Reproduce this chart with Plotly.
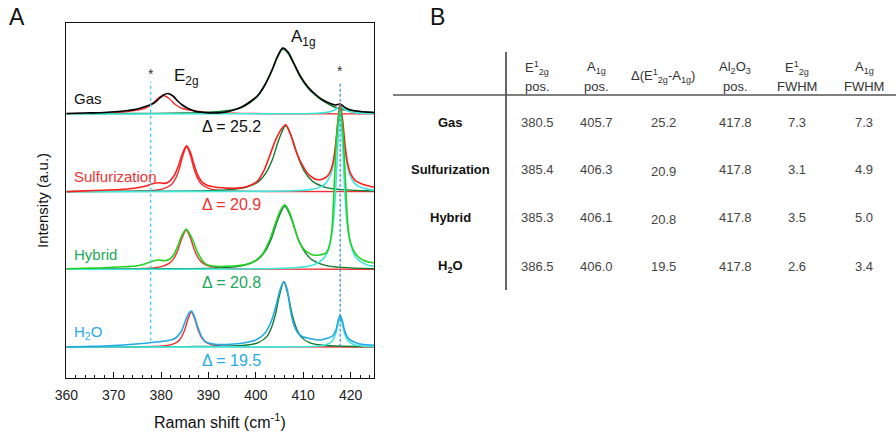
import plotly.graph_objects as go

# ---------------- data (Raman spectra, intensity in a.u. above each baseline) ----------------
GAS_RAW_X = [360, 364, 368, 371, 373, 375, 377, 378.5, 379.5, 380.5, 381.5, 382.5, 383.5, 384.5, 385.5,
             387, 389, 391, 393, 395, 397, 399, 400.5, 402, 403.5, 404.5, 405.7, 406.8, 408, 409.5,
             411, 412.5, 414, 415.7, 416.8, 417.8, 418.8, 420, 422, 425]
GAS_RAW_Y = [0.5, 1, 1.5, 2.5, 3.5, 5, 8, 11, 15, 19, 20.5, 18, 13, 9, 6,
             3, 1.5, 1, 1.5, 3.5, 7, 13, 19, 30, 45, 57, 66, 62, 51, 37,
             27, 20, 14.5, 10.5, 9, 10, 6.5, 4, 2.5, 1.5]
GAS_E2G_X = [360, 364, 368, 371, 373, 375, 376.5, 378, 379.3, 380.5, 381.7, 383, 384.5, 386, 388, 390, 393, 397, 403, 425]
GAS_E2G_Y = [0.3, 0.6, 1.0, 1.6, 2.5, 4.0, 5.5, 9.5, 15.5, 18.5, 15.5, 9.5, 5.5, 4.0, 2.5, 1.6, 1.0, 0.6, 0.3, 0.1]
GAS_A1G_X = [360, 375, 385, 390, 393, 395, 397, 399, 400.5, 402, 403.5, 404.6, 405.7, 406.8, 408, 409.5,
             411, 412.5, 414, 415.7, 417.8, 420, 422, 425]
GAS_A1G_Y = [0.2, 0.5, 1, 1.8, 2.8, 4, 6.5, 12, 18.5, 29.5, 44.5, 57, 65, 60.5, 50, 36,
             26, 19, 13.5, 9, 5, 3.5, 2.5, 1.5]
GAS_AL_X = [360, 410, 413, 415, 416.3, 417, 417.8, 418.6, 419.3, 420.6, 422.6, 425]
GAS_AL_Y = [0, 0.3, 0.8, 1.6, 3.2, 5.2, 7.5, 5.2, 3.2, 1.6, 0.8, 0.4]

SUL_RAW_X = [360, 364, 368, 372, 375, 377, 378.5, 379.5, 380.6, 381.5, 382.6, 383.6, 384.5, 385.4,
             386.2, 386.9, 387.7, 388.5, 389.5, 390.5, 392, 394, 396, 398, 400.2, 401.6, 403, 404.2,
             405.3, 406.3, 407.2, 408.6, 410, 411, 412, 413, 414, 415, 415.8, 416.4, 416.9, 417.4,
             417.8, 418.3, 418.8, 419.3, 420, 421, 422.5, 424, 425]
SUL_RAW_Y = [0, 0.8, 1.5, 2.5, 4, 6, 8.5, 9, 8.3, 9.5, 15, 25, 38, 46,
             39, 28, 17, 10.5, 7, 5.5, 4.2, 3.6, 3.6, 5, 10, 20, 37, 52,
             62, 67, 59, 39, 25, 18, 14, 12, 12.5, 15, 21, 32, 50, 74,
             88, 72, 48, 30, 18, 11, 7.5, 5.5, 4.5]
SUL_E2G_X = [360, 370, 375.8, 379, 380.6, 382.2, 383, 383.8, 384.6, 385.4, 386.2, 387, 387.8, 388.6, 390.2, 391.8, 395, 405, 425]
SUL_E2G_Y = [0.1, 0.3, 0.7, 1.6, 3.0, 7.2, 12.6, 22, 36, 45, 36, 22, 12.6, 7.2, 3.0, 1.6, 0.7, 0.2, 0.05]
SUL_A1G_X = [360, 380, 389.5, 395.1, 397.9, 400.7, 402.1, 403.5, 404.9, 406.3, 407.7, 409.1, 410.5, 411.9, 414.7, 417.5, 423.1, 425]
SUL_A1G_Y = [0.2, 0.5, 1.0, 2.3, 4.4, 10.6, 18.5, 32.3, 52.8, 66, 52.8, 32.3, 18.5, 10.6, 4.4, 2.3, 1.0, 0.8]
SUL_AL_X = [360, 400, 408, 411.8, 413.8, 414.8, 415.8, 416.3, 416.8, 417.3, 417.8, 418.3, 418.8, 419.3, 419.8, 420.8, 421.8, 423.8, 425]
SUL_AL_Y = [0, 0.3, 0.9, 2.3, 5.1, 8.6, 17.2, 26.5, 43, 68.8, 86, 68.8, 43, 26.5, 17.2, 8.6, 5.1, 2.3, 1.6]

HYB_RAW_X = [360, 364, 368, 372, 375, 377, 378.5, 379.5, 380.8, 381.8, 382.6, 383.6, 384.4, 385.3,
             386.1, 386.8, 387.6, 388.2, 389, 389.9, 391.5, 394, 396, 398, 400, 401.5, 402.8, 404,
             405.1, 406.1, 407.2, 408.3, 409.3, 410.7, 412.1, 413.5, 414.5, 415.2, 415.7, 416.1, 416.5,
             417.1, 417.8, 418.4, 418.9, 419.4, 419.9, 420.6, 421.5, 422.7, 424, 425]
HYB_RAW_Y = [0.5, 1, 1.5, 2.5, 3.5, 6, 8.5, 9.3, 8.6, 10, 14, 24, 34, 40,
             35, 28, 18, 12.6, 7, 4.3, 3, 3, 3.5, 5, 9, 16, 28, 44,
             58, 64.5, 56, 39, 26, 17.6, 14.3, 14.3, 15.5, 19, 27, 42, 80,
             135, 162, 135, 90, 45, 28, 19, 13, 9, 7, 6.6]
HYB_E2G_X = [360, 370, 374.8, 378.3, 380.05, 381.8, 382.7, 383.55, 384.4, 385.3, 386.2, 387.05, 387.9, 388.8, 390.55, 392.3, 395.8, 405, 425]
HYB_E2G_Y = [0.1, 0.3, 0.6, 1.4, 2.6, 6.2, 10.9, 19.1, 31.2, 39, 31.2, 19.1, 10.9, 6.2, 2.6, 1.4, 0.6, 0.2, 0.05]
HYB_A1G_X = [360, 380, 389.3, 394.9, 397.7, 400.5, 401.9, 403.3, 404.7, 406.1, 407.5, 408.9, 410.3, 411.7, 414.5, 417.3, 422.9, 425]
HYB_A1G_Y = [0.2, 0.5, 0.9, 2.2, 4.2, 10.1, 17.6, 30.9, 50.4, 63, 50.4, 30.9, 17.6, 10.1, 4.2, 2.2, 0.9, 0.7]
HYB_AL_X = [360, 400, 408, 412.1, 414.0, 415.0, 415.9, 416.4, 416.85, 417.33, 417.8, 418.28, 418.75, 419.2, 419.7, 420.65, 421.6, 423.5, 425]
HYB_AL_Y = [0.1, 0.5, 1.5, 4.3, 9.4, 16, 32, 49, 80, 128, 160, 128, 80, 49, 32, 16, 9.4, 4.3, 3]

H2O_RAW_X = [360, 364, 368, 372, 376, 379, 381, 382.9, 384.2, 385.2, 385.9, 386.4, 387, 387.6, 388.4,
             389.2, 390, 391.7, 394, 396.7, 398.5, 400.2, 401.9, 403.2, 404.3, 405.1, 405.9, 406.6,
             407.2, 407.9, 408.8, 409.8, 411.4, 413.5, 415, 416.2, 416.9, 417.4, 417.8, 418.2, 418.7,
             419.3, 419.9, 421, 422, 425]
H2O_RAW_Y = [0, 0.5, 1, 2, 3.5, 5, 6, 8.5, 15, 27, 34, 36, 31, 22, 12,
             6, 4, 2.5, 2.5, 3.5, 5, 7.5, 13.7, 25, 42, 57, 65.5, 58,
             40, 24, 14.5, 10.5, 8.5, 7, 8.7, 11, 17, 27, 31.5, 27, 17,
             10, 7, 4.5, 3, 1.7]
H2O_E2G_X = [360, 370, 378.0, 380.8, 382.2, 383.6, 384.3, 385.0, 385.7, 386.4, 387.1, 387.8, 388.5, 389.2, 390.6, 392.0, 394.8, 405, 425]
H2O_E2G_Y = [0.05, 0.2, 0.5, 1.2, 2.3, 5.6, 9.8, 17.2, 28, 35, 28, 17.2, 9.8, 5.6, 2.3, 1.2, 0.5, 0.15, 0.05]
H2O_A1G_X = [360, 385, 395.1, 398.7, 400.5, 402.3, 403.2, 404.1, 405.0, 405.9, 406.8, 407.7, 408.6, 409.5, 411.3, 413.1, 416.7, 425]
H2O_A1G_Y = [0.1, 0.4, 1.0, 2.3, 4.3, 10.4, 18.2, 31.9, 52, 65, 52, 31.9, 18.2, 10.4, 4.3, 2.3, 1.0, 0.4]
H2O_AL_X = [360, 405, 412.7, 414.4, 415.25, 416.1, 416.5, 416.95, 417.4, 417.8, 418.2, 418.65, 419.1, 419.5, 420.35, 421.2, 422.9, 425]
H2O_AL_Y = [0, 0.15, 0.8, 1.8, 3, 6, 9.2, 15, 24, 30, 24, 15, 9.2, 6, 3, 1.8, 0.8, 0.4]

SAMPLE_LABELS = ["Gas", "Sulfurization", "Hybrid", "H<sub>2</sub>O"]
DELTA_LABELS = ["Δ = 25.2", "Δ = 20.9", "Δ = 20.8", "Δ = 19.5"]
REF_LINES = [377.8, 417.8]

# table (panel B)
TABLE_ROWS = ["Gas", "Sulfurization", "Hybrid", "H<sub>2</sub>O"]
TABLE_HEAD_1 = ["E<sup>1</sup><sub>2g</sub>", "A<sub>1g</sub>", "", "Al<sub>2</sub>O<sub>3</sub>", "E<sup>1</sup><sub>2g</sub>", "A<sub>1g</sub>"]
TABLE_HEAD_2 = ["pos.", "pos.", "", "pos.", "FWHM", "FWHM"]
TABLE_HEAD_DELTA = "Δ(E<sup>1</sup><sub>2g</sub>-A<sub>1g</sub>)"
E2G_POS = ["380.5", "385.4", "385.3", "386.5"]
A1G_POS = ["405.7", "406.3", "406.1", "406.0"]
DELTA = ["25.2", "20.9", "20.8", "19.5"]
AL2O3_POS = ["417.8", "417.8", "417.8", "417.8"]
E2G_FWHM = ["7.3", "3.1", "3.5", "2.6"]
A1G_FWHM = ["7.3", "4.9", "5.0", "3.4"]

# ---------------- styling / layout ----------------
W, H = 896, 436
FONT = "Arial, Liberation Sans, sans-serif"
C_FIT_E = "#f03030"
C_FIT_A = "#137a2f"
C_FIT_C = "#3ee6dc"
samples = [
    dict(raw=(GAS_RAW_X, GAS_RAW_Y), e=(GAS_E2G_X, GAS_E2G_Y), a=(GAS_A1G_X, GAS_A1G_Y), c=(GAS_AL_X, GAS_AL_Y),
         off=263.7, raw_col="#000000", txt_col="#111111"),
    dict(raw=(SUL_RAW_X, SUL_RAW_Y), e=(SUL_E2G_X, SUL_E2G_Y), a=(SUL_A1G_X, SUL_A1G_Y), c=(SUL_AL_X, SUL_AL_Y),
         off=186.0, raw_col="#ff1f1f", txt_col="#ee3333"),
    dict(raw=(HYB_RAW_X, HYB_RAW_Y), e=(HYB_E2G_X, HYB_E2G_Y), a=(HYB_A1G_X, HYB_A1G_Y), c=(HYB_AL_X, HYB_AL_Y),
         off=108.4, raw_col="#22d322", txt_col="#22a85a"),
    dict(raw=(H2O_RAW_X, H2O_RAW_Y), e=(H2O_E2G_X, H2O_E2G_Y), a=(H2O_A1G_X, H2O_A1G_Y), c=(H2O_AL_X, H2O_AL_Y),
         off=30.7, raw_col="#23a9e6", txt_col="#29abe2"),
]

fig = go.Figure()


def add_line(xs, ys, off, color, width):
    fig.add_trace(go.Scatter(x=xs, y=[v + off for v in ys], mode="lines",
                             line=dict(color=color, width=width, shape="spline", smoothing=0.9),
                             showlegend=False, hoverinfo="skip"))


for s in samples:
    add_line(*s["e"], s["off"], C_FIT_E, 1.4)
    add_line(*s["a"], s["off"], C_FIT_A, 1.4)
    add_line(*s["c"], s["off"], C_FIT_C, 1.6)
    add_line(*s["raw"], s["off"], s["raw_col"], 1.6)

# reference lines
shapes = [
    dict(type="line", xref="x", yref="y", x0=REF_LINES[0], x1=REF_LINES[0], y0=37, y1=296,
         line=dict(color="#4cc3ec", width=1.4, dash="dot")),
    dict(type="line", xref="x", yref="y", x0=REF_LINES[1], x1=REF_LINES[1], y0=31, y1=296,
         line=dict(color="#2a8fc7", width=1.2, dash="3px,2px")),
]

ann = []


def px_ann(text, px, py, size, color="#222222", xanchor="center", bold=False, textangle=0):
    ann.append(dict(text=f"<b>{text}</b>" if bold else text, x=px / W, y=1 - py / H, xref="paper", yref="paper",
                    xanchor=xanchor, yanchor="middle", showarrow=False, textangle=textangle,
                    font=dict(family=FONT, size=size, color=color)))


def data_ann(text, x, y, size, color, xanchor="left"):
    ann.append(dict(text=text, x=x, y=y, xref="x", yref="y", xanchor=xanchor, yanchor="middle",
                    showarrow=False, font=dict(family=FONT, size=size, color=color)))


# panel labels
px_ann("A", 17, 17, 23, "#111111")
px_ann("B", 437, 17, 23, "#111111")
# axis titles
px_ann("Intensity (a.u.)", 42, 201, 15, "#111111", textangle=-90)
px_ann("Raman shift (cm<sup>-1</sup>)", 220, 421, 16, "#111111")

# spectrum labels
for s, lab, dl in zip(samples, SAMPLE_LABELS, DELTA_LABELS):
    data_ann(lab, 361.2, s["off"] + 15, 15, s["txt_col"])
    data_ann(dl, 388.2, s["off"] - 13, 16, s["txt_col"])
data_ann("E<sub>2g</sub>", 382.4, 301, 17, "#111111")
data_ann("A<sub>1g</sub>", 407.0, 340, 17, "#111111")
data_ann("*", REF_LINES[0], 304, 14, "#333333", xanchor="center")
data_ann("*", REF_LINES[1], 307, 14, "#333333", xanchor="center")

# ---------------- table ----------------
col_x = [537, 596, 663, 735, 797, 864]
for cx, h1, h2 in zip(col_x, TABLE_HEAD_1, TABLE_HEAD_2):
    if h1:
        px_ann(h1, cx, 68, 13, "#333333")
        px_ann(h2, cx, 86, 13, "#333333")
px_ann(TABLE_HEAD_DELTA, col_x[2], 76, 13, "#333333")
row_y = [122, 169.5, 217.5, 266]
for i, ry in enumerate(row_y):
    px_ann(TABLE_ROWS[i], 450, ry, 13, "#111111", bold=True)
    vals = [E2G_POS[i], A1G_POS[i], DELTA[i], AL2O3_POS[i], E2G_FWHM[i], A1G_FWHM[i]]
    for j, (cx, v) in enumerate(zip(col_x, vals)):
        dy = 2 if (j == 2 and i in (1, 2)) else 0
        px_ann(v, cx, ry + dy, 13, "#444444")

shapes.append(dict(type="line", xref="paper", yref="paper", x0=393 / W, x1=1.0, y0=1 - 95 / H, y1=1 - 95 / H,
                   line=dict(color="#555555", width=1.5)))
shapes.append(dict(type="line", xref="paper", yref="paper", x0=506 / W, x1=506 / W, y0=1 - 52 / H, y1=1 - 290 / H,
                   line=dict(color="#555555", width=1.8)))

fig.update_layout(
    width=W, height=H, margin=dict(l=0, r=0, t=0, b=0, autoexpand=False),
    paper_bgcolor="white", plot_bgcolor="white",
    shapes=shapes, annotations=ann, showlegend=False,
    xaxis=dict(domain=[66.3 / W, 374.3 / W], range=[360, 425], tick0=360, dtick=10,
               ticks="inside", ticklen=6, tickwidth=1, tickcolor="#111111",
               minor=dict(ticks="inside", ticklen=3, dtick=2, tickwidth=1, tickcolor="#111111"),
               showline=True, linecolor="#111111", linewidth=1.3, mirror=True,
               showgrid=False, zeroline=False, ticklabelstandoff=4, automargin=False,
               tickfont=dict(family=FONT, size=14, color="#222222")),
    yaxis=dict(domain=[(H - 377.7) / H, (H - 22.7) / H], range=[0, 355], automargin=False,
               showticklabels=False, ticks="", showline=True, linecolor="#111111", linewidth=1.3,
               mirror=True, showgrid=False, zeroline=False),
)

fig.write_html("out.html", config={"displayModeBar": False},
               post_script="document.body.style.margin='0';document.body.style.overflow='hidden';")
